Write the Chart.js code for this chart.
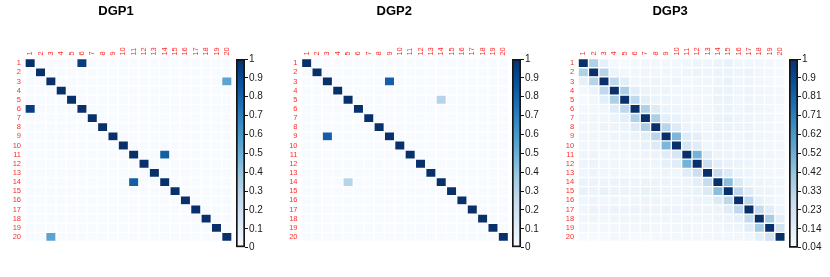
<!DOCTYPE html>
<html><head><meta charset="utf-8">
<script src="https://cdn.jsdelivr.net/npm/chart.js@4.4.1/dist/chart.umd.min.js"></script>
<style>
html,body{margin:0;padding:0;background:#fff;width:830px;height:277px;overflow:hidden;position:relative}
.box{position:absolute}
</style></head><body>
<div class="box" style="left:0px;top:0px;width:262px;height:250px"><canvas id="h1"></canvas></div>
<div class="box" style="left:280px;top:0px;width:257px;height:250px"><canvas id="h2"></canvas></div>
<div class="box" style="left:555px;top:0px;width:257px;height:250px"><canvas id="h3"></canvas></div>
<div class="box" style="left:233.8px;top:51px;width:45px;height:205px"><canvas id="b1"></canvas></div>
<div class="box" style="left:509.8px;top:51px;width:45px;height:205px"><canvas id="b2"></canvas></div>
<div class="box" style="left:787.3px;top:51px;width:45px;height:205px"><canvas id="b3"></canvas></div>
<script>
// ---------- data ----------
const titles = ['DGP1', 'DGP2', 'DGP3'];
const rowLabels = ['1','2','3','4','5','6','7','8','9','10','11','12','13','14','15','16','17','18','19','20'];
const colLabels = ['1','2','3','4','5','6','7','8','9','10','11','12','13','14','15','16','17','18','19','20'];

const dgp1 = [
 [1,0,0,0,0,.95,0,0,0,0,0,0,0,0,0,0,0,0,0,0],
 [0,1,0,0,0,0,0,0,0,0,0,0,0,0,0,0,0,0,0,0],
 [0,0,1,0,0,0,0,0,0,0,0,0,0,0,0,0,0,0,0,.55],
 [0,0,0,1,0,0,0,0,0,0,0,0,0,0,0,0,0,0,0,0],
 [0,0,0,0,1,0,0,0,0,0,0,0,0,0,0,0,0,0,0,0],
 [.95,0,0,0,0,1,0,0,0,0,0,0,0,0,0,0,0,0,0,0],
 [0,0,0,0,0,0,1,0,0,0,0,0,0,0,0,0,0,0,0,0],
 [0,0,0,0,0,0,0,1,0,0,0,0,0,0,0,0,0,0,0,0],
 [0,0,0,0,0,0,0,0,1,0,0,0,0,0,0,0,0,0,0,0],
 [0,0,0,0,0,0,0,0,0,1,0,0,0,0,0,0,0,0,0,0],
 [0,0,0,0,0,0,0,0,0,0,1,0,0,.82,0,0,0,0,0,0],
 [0,0,0,0,0,0,0,0,0,0,0,1,0,0,0,0,0,0,0,0],
 [0,0,0,0,0,0,0,0,0,0,0,0,1,0,0,0,0,0,0,0],
 [0,0,0,0,0,0,0,0,0,0,.82,0,0,1,0,0,0,0,0,0],
 [0,0,0,0,0,0,0,0,0,0,0,0,0,0,1,0,0,0,0,0],
 [0,0,0,0,0,0,0,0,0,0,0,0,0,0,0,1,0,0,0,0],
 [0,0,0,0,0,0,0,0,0,0,0,0,0,0,0,0,1,0,0,0],
 [0,0,0,0,0,0,0,0,0,0,0,0,0,0,0,0,0,1,0,0],
 [0,0,0,0,0,0,0,0,0,0,0,0,0,0,0,0,0,0,1,0],
 [0,0,.55,0,0,0,0,0,0,0,0,0,0,0,0,0,0,0,0,1]
];
const dgp2 = [
 [1,0,0,0,0,0,0,0,0,0,0,0,0,0,0,0,0,0,0,0],
 [0,1,0,0,0,0,0,0,0,0,0,0,0,0,0,0,0,0,0,0],
 [0,0,1,0,0,0,0,0,.82,0,0,0,0,0,0,0,0,0,0,0],
 [0,0,0,1,0,0,0,0,0,0,0,0,0,0,0,0,0,0,0,0],
 [0,0,0,0,1,0,0,0,0,0,0,0,0,.3,0,0,0,0,0,0],
 [0,0,0,0,0,1,0,0,0,0,0,0,0,0,0,0,0,0,0,0],
 [0,0,0,0,0,0,1,0,0,0,0,0,0,0,0,0,0,0,0,0],
 [0,0,0,0,0,0,0,1,0,0,0,0,0,0,0,0,0,0,0,0],
 [0,0,.82,0,0,0,0,0,1,0,0,0,0,0,0,0,0,0,0,0],
 [0,0,0,0,0,0,0,0,0,1,0,0,0,0,0,0,0,0,0,0],
 [0,0,0,0,0,0,0,0,0,0,1,0,0,0,0,0,0,0,0,0],
 [0,0,0,0,0,0,0,0,0,0,0,1,0,0,0,0,0,0,0,0],
 [0,0,0,0,0,0,0,0,0,0,0,0,1,0,0,0,0,0,0,0],
 [0,0,0,0,.3,0,0,0,0,0,0,0,0,1,0,0,0,0,0,0],
 [0,0,0,0,0,0,0,0,0,0,0,0,0,0,1,0,0,0,0,0],
 [0,0,0,0,0,0,0,0,0,0,0,0,0,0,0,1,0,0,0,0],
 [0,0,0,0,0,0,0,0,0,0,0,0,0,0,0,0,1,0,0,0],
 [0,0,0,0,0,0,0,0,0,0,0,0,0,0,0,0,0,1,0,0],
 [0,0,0,0,0,0,0,0,0,0,0,0,0,0,0,0,0,0,1,0],
 [0,0,0,0,0,0,0,0,0,0,0,0,0,0,0,0,0,0,0,1]
];
const dgp3 = [
 [1,.35,.12,.06,.05,.06,.07,.07,.07,.07, .08,.09,.08,.1,.11,.08,.08,.07,.06,.05],
 [.35,1,.33,.1,.07,.07,.08,.08,.08,.08, .09,.1,.09,.1,.1,.09,.1,.08,.06,.05],
 [.12,.33,1,.3,.14,.08,.08,.09,.08,.09, .06,.08,.08,.09,.11,.08,.09,.07,.06,.05],
 [.06,.1,.3,1,.36,.15,.1,.09,.09,.08, .08,.08,.08,.1,.1,.08,.1,.08,.07,.06],
 [.05,.07,.14,.36,1,.3,.14,.1,.09,.08, .07,.07,.07,.1,.1,.07,.09,.08,.07,.06],
 [.06,.07,.08,.15,.3,1,.35,.16,.1,.09, .08,.08,.07,.09,.1,.08,.1,.08,.07,.05],
 [.07,.08,.08,.1,.14,.35,1,.36,.14,.11, .09,.08,.08,.1,.11,.09,.09,.08,.08,.05],
 [.07,.08,.09,.09,.1,.16,.36,1,.32,.16, .1,.09,.08,.1,.1,.09,.09,.08,.07,.06],
 [.07,.08,.08,.09,.09,.1,.14,.32,1,.48, .15,.13,.09,.1,.1,.08,.1,.08,.07,.06],
 [.07,.08,.09,.08,.08,.09,.11,.16,.48,1, .2,.15,.08,.09,.09,.08,.09,.08,.07,.06],
 [.08,.09,.06,.08,.07,.08,.09,.1,.15,.2, 1,.5,.15,.1,.1,.09,.09,.08,.08,.06],
 [.09,.1,.08,.08,.07,.08,.08,.09,.13,.15, .5,1,.25,.14,.11,.1,.09,.08,.07,.06],
 [.08,.09,.08,.08,.07,.07,.08,.08,.09,.08, .15,.25,1,.27,.17,.1,.09,.08,.07,.06],
 [.1,.1,.09,.1,.1,.09,.1,.1,.1,.09, .1,.14,.27,1,.45,.17,.1,.09,.08,.07],
 [.11,.1,.11,.1,.1,.1,.11,.1,.1,.09, .1,.11,.17,.45,1,.3,.15,.1,.09,.07],
 [.08,.09,.08,.08,.07,.08,.09,.09,.08,.08, .09,.1,.1,.17,.3,1,.3,.12,.09,.07],
 [.08,.1,.09,.1,.09,.1,.09,.09,.1,.09, .09,.09,.09,.1,.15,.3,1,.28,.15,.08],
 [.07,.08,.07,.08,.08,.08,.08,.08,.08,.08, .08,.08,.08,.09,.1,.12,.28,1,.38,.13],
 [.06,.06,.06,.07,.07,.07,.08,.07,.07,.07, .08,.07,.07,.08,.09,.09,.15,.38,1,.22],
 [.05,.05,.05,.06,.06,.05,.05,.06,.06,.06, .06,.06,.06,.07,.07,.07,.08,.13,.22,1]
];
const colorRanges = [[0, 1], [0, 1], [0.04, 1]];
const colorbarLabels1 = ['0','0.1','0.2','0.3','0.4','0.5','0.6','0.7','0.8','0.9','1'];
const colorbarLabels2 = ['0','0.1','0.2','0.3','0.4','0.5','0.6','0.7','0.8','0.9','1'];
const colorbarLabels3 = ['0.04','0.14','0.23','0.33','0.42','0.52','0.62','0.71','0.81','0.9','1'];

// ---------- styling ----------
const palette = ['#F7FBFF','#DEEBF7','#C6DBEF','#9ECAE1','#6BAED6','#4292C6','#2171B5','#08519C','#08306B'];
function hex2rgb(h){return [parseInt(h.substr(1,2),16),parseInt(h.substr(3,2),16),parseInt(h.substr(5,2),16)];}
const palRGB = palette.map(hex2rgb);
function blues(t){
  t = Math.max(0, Math.min(1, t));
  const p = t * (palRGB.length - 1);
  const i = Math.min(Math.floor(p), palRGB.length - 2);
  const f = p - i;
  const a = palRGB[i], b = palRGB[i+1];
  return 'rgb(' + [0,1,2].map(k => Math.round(a[k] + (b[k]-a[k])*f)).join(',') + ')';
}
const FONT = "'Liberation Sans', Arial, Helvetica, sans-serif";
const LABEL_RED = '#ff2a2a';
const LABEL_SIZE = 7.5;
const LABEL_LH = LABEL_SIZE * 1.2;

// panel geometry (pixels inside each heatmap canvas)
const heatGeom = [
  {yAxisW: 25.0, padRight: 30.0},
  {yAxisW: 21.5, padRight: 28.5},
  {yAxisW: 23.1, padRight: 26.8}
];
const TITLE_BLOCK = 13 * 1.2 + 4;
const GRID_TOP = 58.6;
const PAD_BOTTOM = 2.6;

function makeHeat(id, k, matrix) {
  const [vmin, vmax] = colorRanges[k];
  const datasets = [];
  for (let r = rowLabels.length - 1; r >= 0; r--) {
    datasets.push({
      label: 'row ' + rowLabels[r],
      data: colLabels.map(() => 1),
      backgroundColor: matrix[r].map(v => blues((v - vmin) / (vmax - vmin))),
      borderColor: '#ffffff',
      borderWidth: 1,
      borderSkipped: false,
      barPercentage: 1,
      categoryPercentage: 1,
      xAxisID: 'x',
      yAxisID: 'y'
    });
  }
  new Chart(document.getElementById(id), {
    type: 'bar',
    data: { labels: colLabels, datasets },
    options: {
      responsive: true, maintainAspectRatio: false, animation: false,
      layout: { padding: { left: 0, right: heatGeom[k].padRight, top: 0, bottom: PAD_BOTTOM } },
      plugins: {
        legend: { display: false },
        tooltip: { enabled: false },
        title: { display: true, text: titles[k], color: '#000',
                 font: { family: FONT, size: 13, weight: 'bold', lineHeight: 1.2 },
                 padding: { top: 4, bottom: 0 } }
      },
      scales: {
        x: {
          type: 'category', position: 'top', stacked: true, offset: true,
          grid: { display: false, drawTicks: false }, border: { display: false },
          ticks: { color: LABEL_RED, font: { family: FONT, size: LABEL_SIZE, lineHeight: 1.2 }, autoSkip: false,
                   minRotation: 90, maxRotation: 90, padding: 3, labelOffset: LABEL_LH },
          afterFit: s => { s.height = GRID_TOP - TITLE_BLOCK; }
        },
        y: {
          type: 'linear', stacked: true, min: 0, max: rowLabels.length, display: false
        },
        yl: {
          type: 'category', labels: rowLabels, position: 'left', offset: true,
          grid: { display: false, drawTicks: false }, border: { display: false },
          ticks: { color: LABEL_RED, font: { family: FONT, size: LABEL_SIZE }, autoSkip: false, padding: 4 },
          afterFit: s => { s.width = heatGeom[k].yAxisW; }
        }
      }
    }
  });
}

function makeBar(id, k, labels) {
  const [vmin, vmax] = colorRanges[k];
  new Chart(document.getElementById(id), {
    type: 'bar',
    data: {
      labels: [''],
      datasets: [{
        data: [[vmin, vmax]],
        backgroundColor: (ctx) => {
          const a = ctx.chart.chartArea;
          if (!a) return palette[4];
          const g = ctx.chart.ctx.createLinearGradient(0, a.bottom, 0, a.top);
          palette.forEach((c, i) => g.addColorStop(i / (palette.length - 1), c));
          return g;
        },
        borderColor: '#151515', borderWidth: 2, borderSkipped: false, borderRadius: 1,
        barPercentage: 1, categoryPercentage: 1
      }]
    },
    options: {
      responsive: true, maintainAspectRatio: false, animation: false,
      layout: { padding: { left: 2, right: 0, top: 8, bottom: 8.3 } },
      plugins: { legend: { display: false }, tooltip: { enabled: false } },
      scales: {
        x: { display: false },
        y: {
          type: 'linear', position: 'right', min: vmin, max: vmax,
          afterBuildTicks: s => {
            s.ticks = labels.map((_, i) => ({ value: vmin + (vmax - vmin) * i / (labels.length - 1) }));
          },
          ticks: { color: '#1a1a1a', font: { family: FONT, size: 10 }, padding: 1,
                   callback: (v, i) => labels[i] },
          grid: { display: true, drawOnChartArea: false, drawTicks: true, tickLength: 3,
                  color: '#151515', lineWidth: 1 },
          border: { display: false },
          afterFit: s => { s.width = 34; }
        }
      }
    }
  });
}

makeHeat('h1', 0, dgp1);
makeHeat('h2', 1, dgp2);
makeHeat('h3', 2, dgp3);
makeBar('b1', 0, colorbarLabels1);
makeBar('b2', 1, colorbarLabels2);
makeBar('b3', 2, colorbarLabels3);
</script>
</body></html>
